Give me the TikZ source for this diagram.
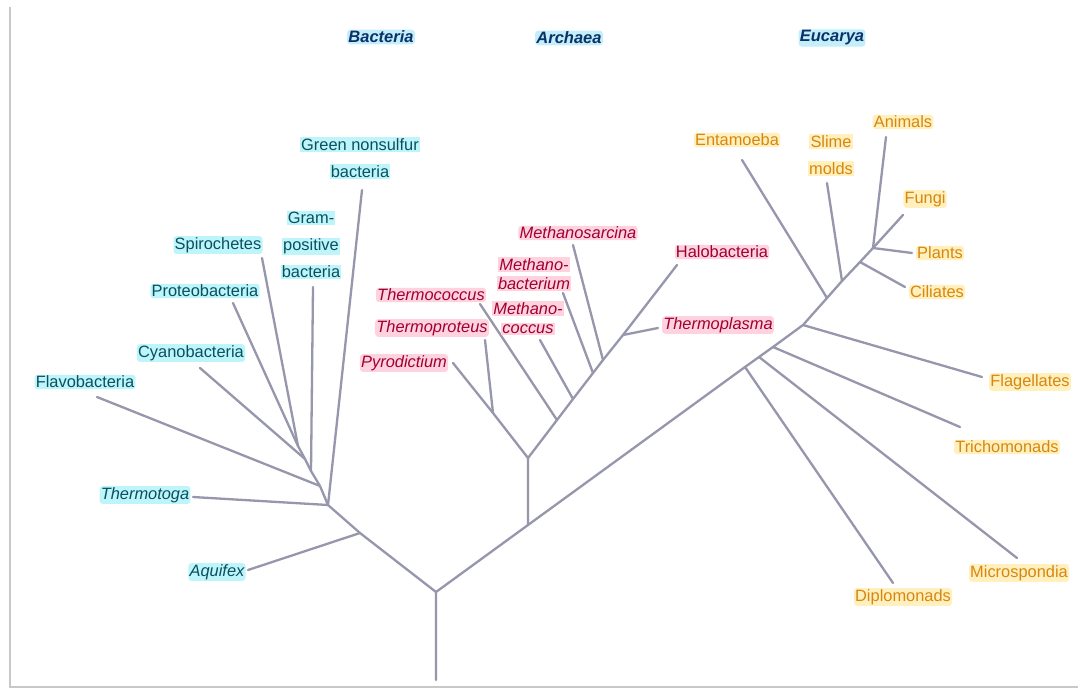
\documentclass[tikz,border=0pt]{standalone}
\usepackage{fontspec}
\setmainfont{Liberation Sans}
\definecolor{linec}{RGB}{150,150,172}
\definecolor{framec}{RGB}{200,200,200}
\definecolor{bactxt}{RGB}{8,80,95}
\definecolor{bacfill}{RGB}{190,245,250}
\definecolor{titletxt}{RGB}{10,50,105}
\definecolor{titlefill}{RGB}{195,238,250}
\definecolor{arctxt}{RGB}{160,0,48}
\definecolor{arcfill}{RGB}{255,210,224}
\definecolor{euktxt}{RGB}{215,135,15}
\definecolor{eukfill}{RGB}{255,240,190}
\newcommand{\hlline}[2]{{\setlength{\fboxsep}{1.2pt}\colorbox{#1}{#2}}}
\begin{document}
\begin{tikzpicture}[x=1pt,y=-1pt,
  branch/.style={draw=linec, line width=2.3pt, line cap=round, line join=round},
  lab/.style={inner sep=1.2pt, rounded corners=3pt, align=center, font=\fontsize{16.4}{27}\selectfont},
  bac/.style={lab, text=bactxt, fill=bacfill},
  bacit/.style={bac, font=\fontsize{16.4}{27}\selectfont\itshape},
  bacml/.style={lab, text=bactxt, inner sep=0pt},
  arc/.style={lab, text=arctxt, fill=arcfill, font=\fontsize{16.4}{19}\selectfont},
  arcit/.style={arc, font=\fontsize{16.4}{19}\selectfont\itshape},
  arcml/.style={lab, text=arctxt, inner sep=0pt, font=\fontsize{16.4}{19}\selectfont\itshape},
  euk/.style={lab, text=euktxt, fill=eukfill},
  eukml/.style={lab, text=euktxt, inner sep=0pt},
  domtitle/.style={lab, text=titletxt, fill=titlefill, font=\fontsize{16.5}{20}\selectfont\bfseries\itshape}
]
\useasboundingbox (0,0) rectangle (1078,690);
\fill[white] (0,0) rectangle (1078,690);
% frame
\coordinate (fTop) at (10,7);
\coordinate (fCorner) at (10,687);
\coordinate (fRight) at (1078,687);
\draw[framec, line width=2.4pt] (fTop) -- (fCorner) -- (fRight);

% ---------- tree coordinates ----------
\coordinate (root0) at (436,680);
\coordinate (R) at (436,592);
% bacteria
\coordinate (A1) at (360,533);
\coordinate (T) at (328,505);
\coordinate (S1) at (320,486);
\coordinate (S2) at (311,471);
\coordinate (S3) at (305,459);
\coordinate (S4) at (298,446);
\coordinate (aqE) at (248,570);
\coordinate (thE) at (193,497);
\coordinate (gnE) at (362,190);
\coordinate (flE) at (97,397);
\coordinate (gpE) at (313,287);
\coordinate (cyE) at (200,368);
\coordinate (prE) at (233,303);
\coordinate (spE) at (262,258);
% archaea
\coordinate (AB) at (528,525);
\coordinate (AJ) at (528,458);
\coordinate (P1) at (493,413);
\coordinate (pyE) at (453,363);
\coordinate (tpE) at (485,340);
\coordinate (Q1) at (557,420);
\coordinate (Q2) at (573,399);
\coordinate (Q3) at (593,373);
\coordinate (Q4) at (603,360);
\coordinate (Q5) at (623,335);
\coordinate (haE) at (677,265);
\coordinate (tcE) at (480,304);
\coordinate (mcE) at (540,340);
\coordinate (mbE) at (563,293);
\coordinate (msE) at (573,245);
\coordinate (tmE) at (658,328);
% eucarya
\coordinate (E1) at (745,367);
\coordinate (E2) at (759,357);
\coordinate (E3) at (773,347);
\coordinate (E4) at (803,325);
\coordinate (E5) at (827,298);
\coordinate (E6) at (842,281);
\coordinate (E7) at (860,262);
\coordinate (E8) at (873,248);
\coordinate (fuE) at (903,215);
\coordinate (dpE) at (893,583);
\coordinate (miE) at (1017,558);
\coordinate (trE) at (960,427);
\coordinate (flgE) at (982,377);
\coordinate (enE) at (742,160);
\coordinate (smE) at (827,183);
\coordinate (anE) at (886,137);
\coordinate (plE) at (912,253);
\coordinate (ciE) at (905,287);

% ---------- branches ----------
\draw[branch] (root0) -- (R) -- (A1) -- (T) -- (S1) -- (S2) -- (S3) -- (S4);
\draw[branch] (aqE) -- (A1);
\draw[branch] (thE) -- (T);
\draw[branch] (gnE) -- (T);
\draw[branch] (flE) -- (S1);
\draw[branch] (gpE) -- (S2);
\draw[branch] (cyE) -- (S3);
\draw[branch] (prE) -- (S4);
\draw[branch] (spE) -- (S4);

\draw[branch] (R) -- (AB) -- (E1) -- (E2) -- (E3) -- (E4) -- (E5) -- (E6) -- (E7) -- (E8) -- (fuE);
\draw[branch] (AB) -- (AJ) -- (P1) -- (pyE);
\draw[branch] (tpE) -- (P1);
\draw[branch] (AJ) -- (Q1) -- (Q2) -- (Q3) -- (Q4) -- (Q5) -- (haE);
\draw[branch] (tcE) -- (Q1);
\draw[branch] (mcE) -- (Q2);
\draw[branch] (mbE) -- (Q3);
\draw[branch] (msE) -- (Q4);
\draw[branch] (tmE) -- (Q5);

\draw[branch] (dpE) -- (E1);
\draw[branch] (miE) -- (E2);
\draw[branch] (trE) -- (E3);
\draw[branch] (flgE) -- (E4);
\draw[branch] (enE) -- (E5);
\draw[branch] (smE) -- (E6);
\draw[branch] (ciE) -- (E7);
\draw[branch] (anE) -- (E8);
\draw[branch] (plE) -- (E8);

% ---------- titles ----------
\node[domtitle] (tBac) at (381,37) {Bacteria};
\node[domtitle] (tArc) at (569,38) {Archaea};
\node[domtitle] (tEuc) at (832,38) {Eucarya};

% ---------- bacteria labels ----------
\node[bacml] (lGreen) at (360,158) {\hlline{bacfill}{Green nonsulfur}\\\hlline{bacfill}{bacteria}};
\node[bacml] (lGram) at (311,245) {\hlline{bacfill}{Gram-}\\\hlline{bacfill}{positive}\\\hlline{bacfill}{bacteria}};
\node[bac] (lSpiro) at (218,245) {Spirochetes};
\node[bac] (lProt) at (205,291) {Proteobacteria};
\node[bac] (lCyan) at (191,353) {Cyanobacteria};
\node[bac] (lFlav) at (85,382) {Flavobacteria};
\node[bacit] (lThermotoga) at (145,495) {Thermotoga};
\node[bacit] (lAquifex) at (217,572) {Aquifex};

% ---------- archaea labels ----------
\node[arcit] (lMsar) at (578,233) {Methanosarcina};
\node[arcml] (lMbac) at (534,274) {\hlline{arcfill}{Methano-}\\\hlline{arcfill}{bacterium}};
\node[arcit] (lTcoc) at (431,295) {Thermococcus};
\node[arcit] (lTprot) at (432,328) {Thermoproteus};
\node[arcml] (lMcoc) at (528,318) {\hlline{arcfill}{Methano-}\\\hlline{arcfill}{coccus}};
\node[arcit] (lPyro) at (404,363) {Pyrodictium};
\node[arc] (lHalo) at (722,252) {Halobacteria};
\node[arcit] (lTplas) at (718,325) {Thermoplasma};

% ---------- eucarya labels ----------
\node[euk] (lEnt) at (737,140) {Entamoeba};
\node[eukml] (lSlime) at (831,155) {\hlline{eukfill}{Slime}\\\hlline{eukfill}{molds}};
\node[euk] (lAnim) at (903,122) {Animals};
\node[euk] (lFungi) at (925,199) {Fungi};
\node[euk] (lPlants) at (940,253) {Plants};
\node[euk] (lCil) at (937,292) {Ciliates};
\node[euk] (lFlag) at (1030,382) {Flagellates};
\node[euk] (lTrich) at (1007,447) {Trichomonads};
\node[euk] (lMicro) at (1019,573) {Microspondia};
\node[euk] (lDiplo) at (903,597) {Diplomonads};
\end{tikzpicture}
\end{document}
